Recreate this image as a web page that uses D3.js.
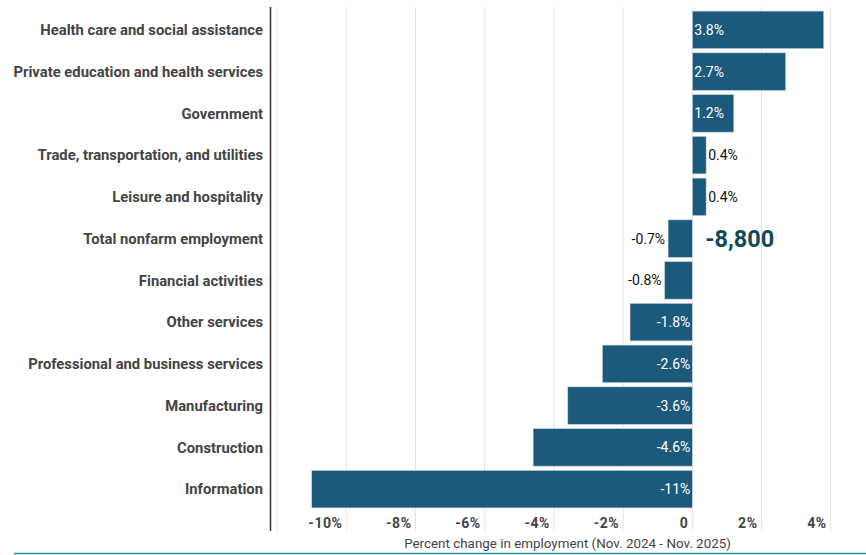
<!DOCTYPE html>
<html>
<head>
<meta charset="utf-8">
<script src="https://cdn.jsdelivr.net/npm/d3@7"></script>
<style>
  body { margin: 0; background: #fff; }
  svg { display: block; font-family: Roboto, "Liberation Sans", sans-serif; }
</style>
</head>
<body>
<div class="chart"></div>
<script>
// data
var categories = [
  "Health care and social assistance",
  "Private education and health services",
  "Government",
  "Trade, transportation, and utilities",
  "Leisure and hospitality",
  "Total nonfarm employment",
  "Financial activities",
  "Other services",
  "Professional and business services",
  "Manufacturing",
  "Construction",
  "Information"
];
var values = [3.8, 2.7, 1.2, 0.4, 0.4, -0.7, -0.8, -1.8, -2.6, -3.6, -4.6, -11];
var valueLabels = ["3.8%", "2.7%", "1.2%", "0.4%", "0.4%", "-0.7%", "-0.8%", "-1.8%", "-2.6%", "-3.6%", "-4.6%", "-11%"];
var tickValues = [-10, -8, -6, -4, -2, 0, 2, 4];
var gridValues = [-12, -10, -8, -6, -4, -2, 0, 2, 4];
var totalLabel = "-8,800";
var axisTitle = "Percent change in employment (Nov. 2024 - Nov. 2025)";

var svgWidth = 866, svgHeight = 555;

var svg = d3.select(".chart")
  .append("svg")
  .attr("width", svgWidth)
  .attr("height", svgHeight);

var data = categories.map(function(c, i) {
  return { name: c, value: values[i], label: valueLabels[i] };
});

// scales
var x = d3.scaleLinear()
  .domain([-12, 4])
  .range([277.1, 830.7]);

var y = d3.scaleBand()
  .domain(categories)
  .range([9, 510])
  .paddingInner(0.1)
  .paddingOuter(0.05);

// gridlines
svg.append("g")
  .selectAll("line")
  .data(gridValues)
  .enter()
  .append("line")
  .attr("x1", d => x(d))
  .attr("x2", d => x(d))
  .attr("y1", 7)
  .attr("y2", 531)
  .attr("stroke", "#e3e3e3")
  .attr("stroke-width", 1);

// left axis line
svg.append("line")
  .attr("x1", 270.5)
  .attr("x2", 270.5)
  .attr("y1", 7)
  .attr("y2", 531)
  .attr("stroke", "#333")
  .attr("stroke-width", 1.5);

// bars
svg.append("g")
  .selectAll("rect")
  .data(data)
  .enter()
  .append("rect")
  .attr("x", d => x(Math.min(0, d.value)))
  .attr("y", d => y(d.name))
  .attr("width", d => Math.abs(x(d.value) - x(0)))
  .attr("height", y.bandwidth())
  .attr("fill", "#1c5a7c")
  .attr("stroke", "#c9d8e2")
  .attr("stroke-width", 0.6);

// category labels
svg.append("g")
  .selectAll("text")
  .data(data)
  .enter()
  .append("text")
  .attr("x", 263)
  .attr("y", d => y(d.name) + y.bandwidth() / 2)
  .attr("dy", "0.35em")
  .attr("text-anchor", "end")
  .attr("font-size", "14.8px")
  .attr("font-weight", "bold")
  .attr("fill", "#444")
  .text(d => d.name);

// value labels: inside when the bar is wide, outside otherwise
function inside(d) { return Math.abs(x(d.value) - x(0)) > 30; }

svg.append("g")
  .selectAll("text")
  .data(data)
  .enter()
  .append("text")
  .attr("x", function(d) {
    if (d.value >= 0) return inside(d) ? x(0) + 2 : x(d.value) + 2;
    return inside(d) ? x(0) - 2 : x(d.value) - 3;
  })
  .attr("y", d => y(d.name) + y.bandwidth() / 2)
  .attr("dy", "0.35em")
  .attr("text-anchor", d => (d.value >= 0) ? "start" : "end")
  .attr("font-size", "14px")
  .attr("fill", d => inside(d) ? "#fff" : "#111")
  .text(d => d.label);

// total callout
svg.append("text")
  .attr("x", x(0) + 13)
  .attr("y", y("Total nonfarm employment") + y.bandwidth() / 2)
  .attr("dy", "0.35em")
  .attr("font-size", "23.5px")
  .attr("font-weight", "bold")
  .attr("fill", "#0e4a56")
  .text(totalLabel);

// x tick labels
svg.append("g")
  .selectAll("text")
  .data(tickValues)
  .enter()
  .append("text")
  .attr("x", d => x(d) - 4)
  .attr("y", 523)
  .attr("dy", "0.35em")
  .attr("text-anchor", "end")
  .attr("font-size", "14px")
  .attr("font-weight", "bold")
  .attr("letter-spacing", "0.5px")
  .attr("fill", "#444")
  .text(d => d === 0 ? "0" : d + "%");

// axis title
svg.append("text")
  .attr("x", 567.5)
  .attr("y", 543)
  .attr("dy", "0.35em")
  .attr("text-anchor", "middle")
  .attr("font-size", "13.4px")
  .attr("fill", "#444")
  .text(axisTitle);

// bottom rule
svg.append("line")
  .attr("x1", 14)
  .attr("x2", svgWidth)
  .attr("y1", 553.5)
  .attr("y2", 553.5)
  .attr("stroke", "#1a9aa6")
  .attr("stroke-width", 1.5);
</script>
</body>
</html>
